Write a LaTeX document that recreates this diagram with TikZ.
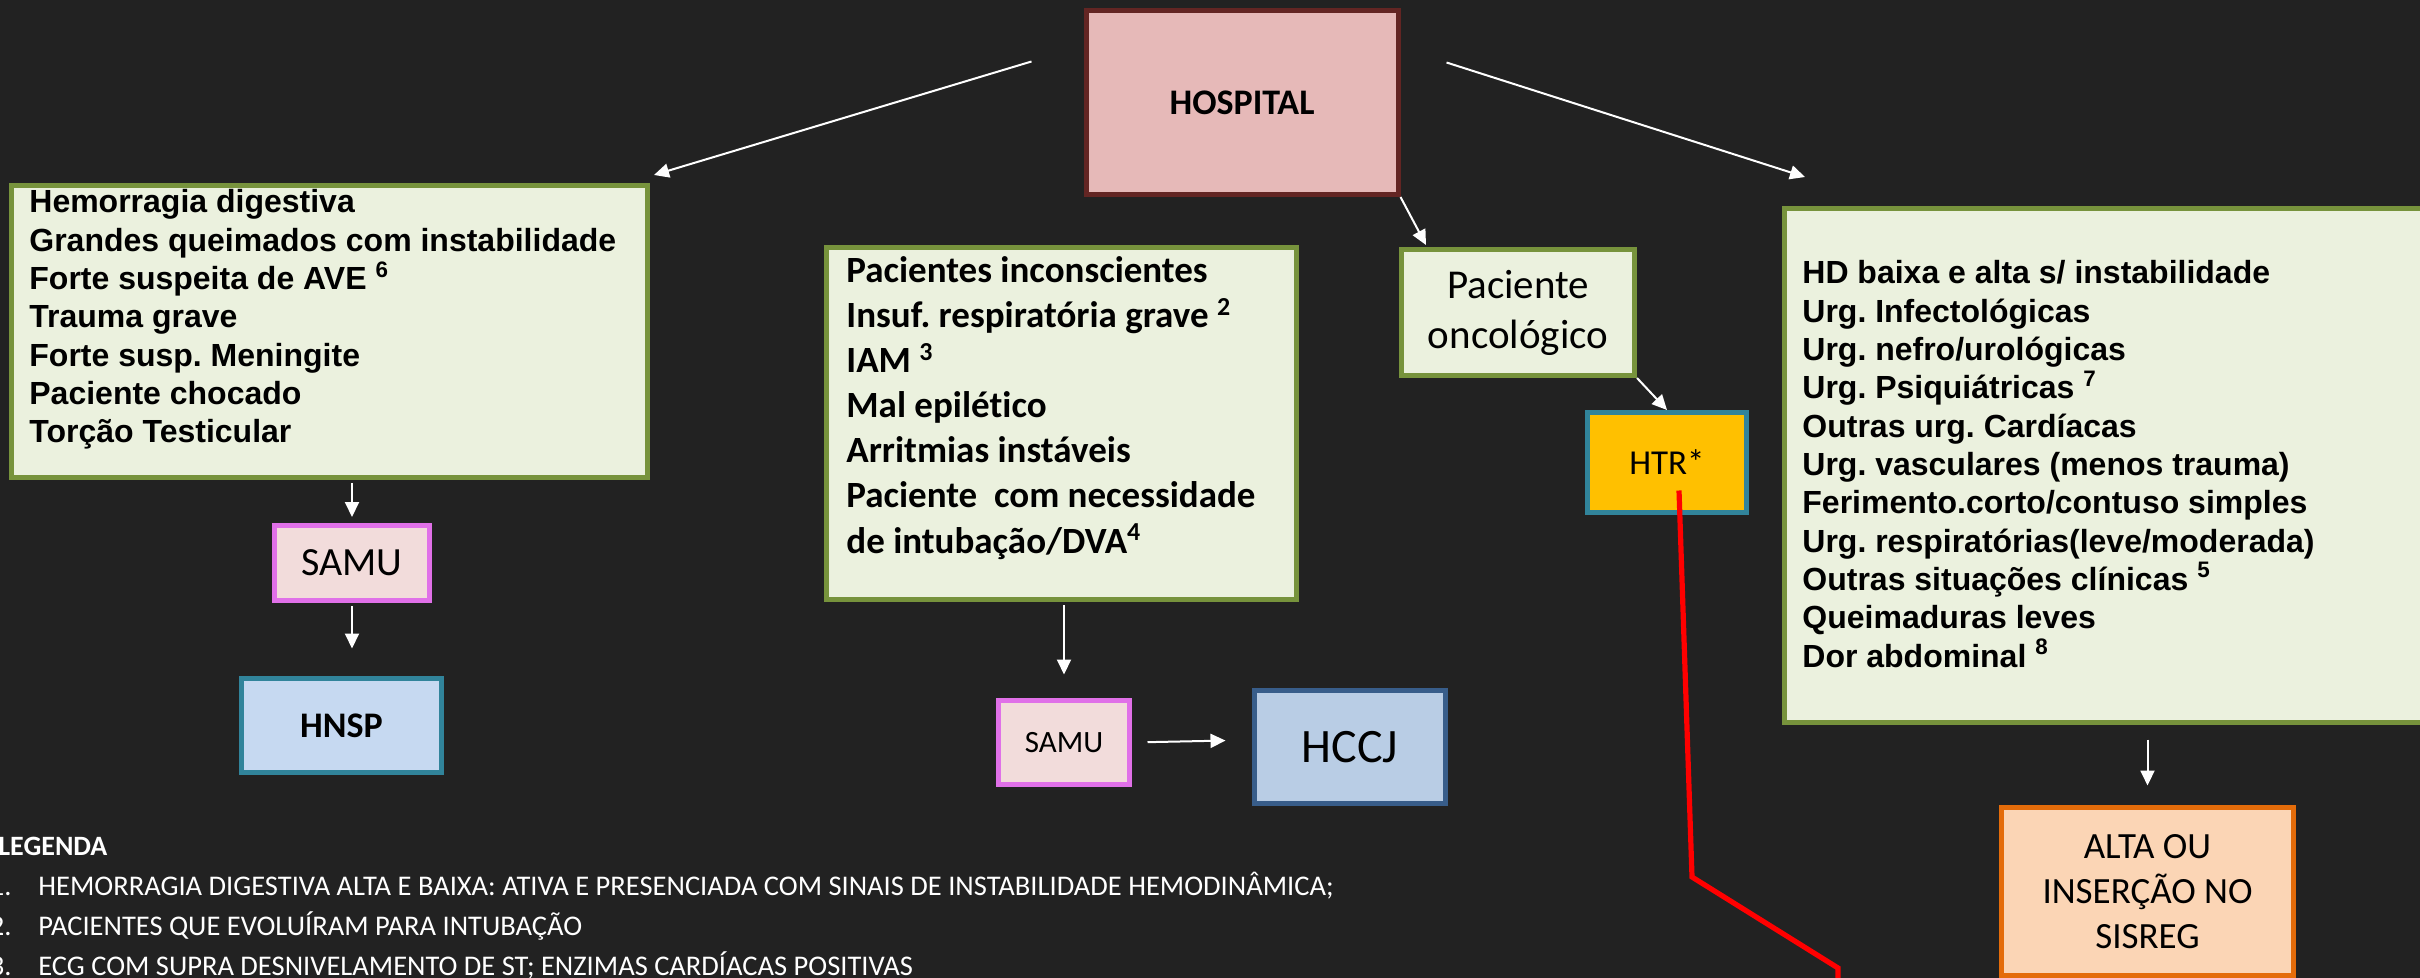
\documentclass[tikz,border=0pt]{standalone}
\usepackage{fontspec}
\setmainfont{Carlito}[Ligatures={NoCommon}]
\newfontfamily\arialfont{Liberation Sans}
\usetikzlibrary{arrows.meta,calc}

\begin{document}
\frenchspacing
\begin{tikzpicture}[x=0.5pt, y=-0.5pt,
    box/.style={draw, line width=2.5pt, inner sep=0pt, align=center, text=black},
    listbox/.style={box, draw=listborder, fill=listfill},
    arialline/.style={anchor=base west, inner sep=0pt, text=black,
      font=\arialfont\bfseries\fontsize{16}{19}\selectfont},
    calibriline/.style={anchor=base west, inner sep=0pt, text=black,
      font=\bfseries\fontsize{18.5}{22}\selectfont},
    legline/.style={inner sep=0pt, text=white, font=\fontsize{14.25}{17}\selectfont},
    arr/.style={white, line width=1pt, -{Triangle[length=7.5pt, width=7pt]}},
    redline/.style={draw=red, line width=2.6pt, line join=miter}]

  \definecolor{bgdark}     {RGB}{34,34,34}
  \definecolor{listfill}   {RGB}{235,241,222}
  \definecolor{listborder} {RGB}{119,147,60}
  \definecolor{hospfill}   {RGB}{230,185,184}
  \definecolor{hospborder} {RGB}{99,37,35}
  \definecolor{samufill}   {RGB}{242,220,219}
  \definecolor{samuborder} {RGB}{224,112,232}
  \definecolor{hnspfill}   {RGB}{198,217,241}
  \definecolor{tealborder} {RGB}{49,132,155}
  \definecolor{hccjfill}   {RGB}{185,205,229}
  \definecolor{hccjborder} {RGB}{56,93,138}
  \definecolor{htrfill}    {RGB}{255,192,0}
  \definecolor{altafill}   {RGB}{251,213,181}
  \definecolor{altaborder} {RGB}{228,108,10}

  % Background
  \fill[bgdark] (0,0) rectangle (2420,978);
  \useasboundingbox (0,0) rectangle (2420,978);
  \clip (0,0) rectangle (2420,978);

  % Top box
  \node[box, draw=hospborder, fill=hospfill, minimum width=156pt, minimum height=92pt,
    font=\bfseries\fontsize{18}{22}\selectfont] (hosp) at (1242,102.5) {HOSPITAL};

  % Left column
  \node[listbox, minimum width=318pt, minimum height=146pt] (crit) at (329.5,331.5) {};
  \foreach \t [count=\i from 0] in {Hemorragia digestiva, Grandes queimados com instabilidade,
      {Forte suspeita de AVE \textsuperscript{6}}, Trauma grave, Forte susp. Meningite,
      Paciente chocado, Torção Testicular}
    \node[arialline] (crit\i) at (29,213+38.3*\i) {\t};
  \node[box, draw=samuborder, fill=samufill, minimum width=77.5pt, minimum height=37.5pt,
    font=\fontsize{20}{24}\selectfont] (samu1) at (352,563) {SAMU};
  \node[box, draw=tealborder, fill=hnspfill, minimum width=100pt, minimum height=47pt,
    font=\bfseries\fontsize{18}{22}\selectfont] (hnsp) at (341.5,725.5) {HNSP};

  % Middle column
  \node[listbox, minimum width=235pt, minimum height=176pt] (grave) at (1061.5,423.5) {};
  \foreach \t [count=\i from 0] in {Pacientes inconscientes,
      {Insuf. respiratória grave \textsuperscript{2}}, {IAM \textsuperscript{3}},
      Mal epilético, Arritmias instáveis, {Paciente\ \ com necessidade},
      {de intubação/DVA\textsuperscript{4}}}
    \node[calibriline] (grave\i) at (846,283+45*\i) {\t};
  \node[box, draw=samuborder, fill=samufill, minimum width=65.5pt, minimum height=42pt,
    font=\fontsize{15.5}{19}\selectfont] (samu2) at (1064,742.5) {SAMU};
  \node[box, draw=hccjborder, fill=hccjfill, minimum width=95.5pt, minimum height=56.5pt,
    font=\fontsize{24}{29}\selectfont] (hccj) at (1350,747) {HCCJ};

  % Oncology branch
  \node[listbox, minimum width=116.5pt, minimum height=63pt,
    font=\fontsize{20.5}{25}\selectfont] (onc) at (1518,312.5) {Paciente\\oncológico};
  \node[box, draw=tealborder, fill=htrfill, minimum width=79.5pt, minimum height=50pt,
    font=\fontsize{17.5}{21}\selectfont] (htr) at (1667,462.5) {HTR*};

  % Right column
  \node[listbox, minimum width=331.5pt, minimum height=257pt] (wide) at (2116,465.5) {};
  \foreach \t [count=\i from 0] in {{HD baixa e alta s/ instabilidade}, {Urg. Infectológicas},
      {Urg. nefro/urológicas}, {Urg. Psiquiátricas \textsuperscript{7}},
      {Outras urg. Cardíacas}, {Urg. vasculares (menos trauma)},
      {Ferimento.corto/contuso simples}, {Urg. respiratórias(leve/moderada)},
      {Outras situações clínicas \textsuperscript{5}}, {Queimaduras leves},
      {Dor abdominal \textsuperscript{8}}}
    \node[arialline] (wide\i) at (1802,284+38.3*\i) {\t};
  \node[box, draw=altaborder, fill=altafill, minimum width=146pt, minimum height=84pt,
    font=\fontsize{18.5}{22.5}\selectfont] (alta) at (2147.5,891.5) {ALTA OU\\INSERÇÃO NO\\SISREG};

  % Arrows
  \draw[arr] ($(hosp.west)+(-52,-41)$) -- ($(crit.north east)+(4,-8)$);
  \draw[arr] ($(hosp.east)+(46,-40)$) -- ($(wide.north west)+(23,-29)$);
  \draw[arr] (hosp.south east) -- ($(onc.north west)+(27,-2)$);
  \draw[arr] (onc.south east) -- (htr.north);
  \draw[arr, shorten <=1.5pt, shorten >=3pt] (crit.south -| samu1.north) -- (samu1.north);
  \draw[arr, shorten <=1.5pt, shorten >=13.75pt] (samu1.south) -- (samu1.south |- hnsp.north);
  \draw[arr, shorten <=1.5pt, shorten >=11.75pt] (grave.south -| samu2.north) -- (samu2.north);
  \draw[arr, shorten <=7.75pt, shorten >=13.25pt] (samu2.east) -- ($(hccj.west)+(0,-7)$);
  \draw[arr, shorten <=7.25pt, shorten >=9.75pt] (wide.south -| alta.north) -- (alta.north);

  % Red link
  \coordinate (bend1) at (1692,877);
  \coordinate (bend2) at (1838,968);
  \coordinate (redend) at (1838,995);
  \draw[redline] ($(htr.center)+(12,28)$) -- (bend1) -- (bend2) -- (redend);

  % Legend
  \node[legline, anchor=base west, font=\bfseries\fontsize{14}{17}\selectfont] (legtitle)
    at (-2,855) {LEGENDA};
  \foreach \t [count=\i] in {HEMORRAGIA DIGESTIVA ALTA E BAIXA: ATIVA E PRESENCIADA COM SINAIS DE INSTABILIDADE HEMODINÂMICA;,
      PACIENTES QUE EVOLUÍRAM PARA INTUBAÇÃO,
      ECG COM SUPRA DESNIVELAMENTO DE ST; ENZIMAS CARDÍACAS POSITIVAS} {
    \node[legline, anchor=base east] (num\i) at (12,855+40*\i) {\i.};
    \node[legline, anchor=base west] (leg\i) at (38,855+40*\i) {\t};
  }
\end{tikzpicture}
\end{document}
